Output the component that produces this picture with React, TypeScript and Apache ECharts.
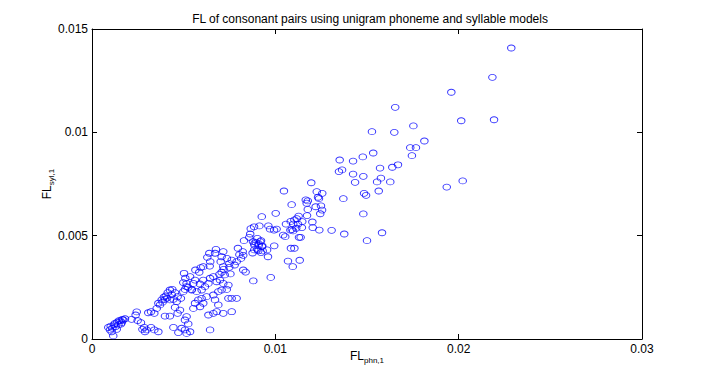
import React, { useEffect, useRef } from "react";
import * as echarts from "echarts";

const titleText = "FL of consonant pairs using unigram phoneme and syllable models";
const xName = "{a|FL}{b|phn,1}";
const yName = "{a|FL}{b|syl,1}";
const xRange = [0, 0.03];
const yRange = [0, 0.015];

const upperPairs: [number, number][] = [
  [0.02287, 0.01408], [0.02184, 0.01266], [0.0196, 0.01194], [0.01654, 0.01121],
  [0.02014, 0.01056], [0.02193, 0.01061], [0.01527, 0.01003], [0.01649, 0.01],
  [0.01753, 0.01031], [0.01813, 0.00958], [0.01736, 0.00926], [0.01767, 0.00926],
  [0.01745, 0.00887], [0.01534, 0.009], [0.01477, 0.00881], [0.01351, 0.00866],
  [0.01424, 0.00861], [0.01347, 0.0081], [0.01364, 0.00818], [0.01571, 0.00827],
  [0.01638, 0.00831], [0.01669, 0.00843], [0.01424, 0.00798], [0.0148, 0.00787],
  [0.01435, 0.00758], [0.01555, 0.0076], [0.01576, 0.00778], [0.01627, 0.0076],
  [0.01935, 0.00735], [0.02022, 0.00765], [0.01484, 0.00705], [0.01495, 0.00695],
  [0.01564, 0.00716], [0.01371, 0.00679], [0.0148, 0.00605], [0.01307, 0.00526],
  [0.01376, 0.00508], [0.01582, 0.00514], [0.015, 0.00476],
];

const middlePairs: [number, number][] = [
  [0.01196, 0.00756], [0.01047, 0.00716], [0.01226, 0.00713], [0.01256, 0.00705],
  [0.01166, 0.00673], [0.01177, 0.00668], [0.01233, 0.00686], [0.01238, 0.00679],
  [0.01089, 0.0065], [0.0122, 0.0064], [0.01249, 0.00644], [0.01255, 0.00624],
  [0.01177, 0.00627], [0.01002, 0.00608], [0.01127, 0.00595], [0.01117, 0.00582],
  [0.01084, 0.00569], [0.01104, 0.00576], [0.01173, 0.00597], [0.01202, 0.00566],
  [0.01245, 0.00606], [0.00926, 0.00592], [0.01058, 0.00556], [0.01098, 0.00556],
  [0.01124, 0.00556], [0.01147, 0.00568], [0.01145, 0.00539], [0.01114, 0.00536],
  [0.01082, 0.00527], [0.0124, 0.00527], [0.00913, 0.00547], [0.00884, 0.00543],
  [0.00866, 0.00534], [0.00971, 0.00532], [0.01007, 0.00532], [0.00962, 0.00547],
  [0.00993, 0.00527], [0.01043, 0.00503], [0.01054, 0.00495], [0.01129, 0.00492],
  [0.01138, 0.00492], [0.00863, 0.00508], [0.00858, 0.00492], [0.00902, 0.00487],
  [0.00922, 0.00476], [0.00909, 0.0046], [0.00829, 0.00476], [0.00885, 0.0046],
  [0.00929, 0.0045], [0.00796, 0.00439], [0.00994, 0.00451], [0.01085, 0.00439],
  [0.01104, 0.00439], [0.00676, 0.00434], [0.01204, 0.00539], [0.0109, 0.0053],
  [0.01097, 0.00523], [0.01171, 0.00657], [0.01069, 0.00377], [0.01133, 0.00381],
  [0.01095, 0.0035], [0.00975, 0.00298], [0.0096, 0.00398], [0.00955, 0.00431],
];

const lowerPairs: [number, number][] = [
  [0.00116, 0.00015], [0.00089, 0.00056], [0.00098, 0.00044], [0.00111, 0.00052],
  [0.00129, 0.0006], [0.00144, 0.00068], [0.00125, 0.00076], [0.00147, 0.00089],
  [0.00165, 0.00095], [0.0018, 0.00098], [0.00162, 0.00079], [0.00135, 0.00047],
  [0.00107, 0.00035], [0.00102, 0.00062], [0.0012, 0.00068], [0.00138, 0.00082],
  [0.00155, 0.00088], [0.0017, 0.00092], [0.00158, 0.00072], [0.00244, 0.00131],
  [0.00238, 0.00116], [0.00216, 0.00095], [0.00249, 0.00089], [0.00267, 0.00079],
  [0.00285, 0.00056], [0.00298, 0.00044], [0.00322, 0.00056], [0.0034, 0.00044],
  [0.00362, 0.00035], [0.00289, 0.00035], [0.00275, 0.00047], [0.00307, 0.00127],
  [0.00322, 0.00132], [0.0034, 0.00124], [0.00353, 0.00148], [0.00371, 0.00165],
  [0.00362, 0.00173], [0.0038, 0.00189], [0.00398, 0.00192], [0.00402, 0.00208],
  [0.00413, 0.00224], [0.00425, 0.00237], [0.00438, 0.0024], [0.00453, 0.00224],
  [0.00467, 0.00205], [0.00444, 0.00192], [0.00425, 0.00189], [0.00462, 0.00181],
  [0.00485, 0.00197], [0.00498, 0.00229], [0.00498, 0.00273], [0.00398, 0.00111],
  [0.00425, 0.00111], [0.00453, 0.00153], [0.0048, 0.0014], [0.00467, 0.00124],
  [0.00489, 0.00052], [0.00444, 0.00056], [0.00471, 0.00031], [0.00385, 0.00178],
  [0.0041, 0.00198], [0.00435, 0.00215], [0.00392, 0.00203],
];

const clusterPairs: [number, number][] = [
  [0.00593, 0.00345], [0.00564, 0.00334], [0.00585, 0.00323], [0.00749, 0.00347],
  [0.00718, 0.00337], [0.00707, 0.00323], [0.00724, 0.0031], [0.00755, 0.00315],
  [0.00695, 0.00313], [0.00825, 0.00334], [0.00838, 0.00324], [0.0088, 0.00281],
  [0.00502, 0.00318], [0.00509, 0.00294], [0.00535, 0.00302], [0.00562, 0.00285],
  [0.00553, 0.00269], [0.00516, 0.00253], [0.00544, 0.00237], [0.00571, 0.00229],
  [0.00598, 0.00237], [0.00616, 0.00253], [0.00589, 0.00266], [0.00635, 0.00269],
  [0.00607, 0.00285], [0.00644, 0.00294], [0.00662, 0.00302], [0.0068, 0.00277],
  [0.00698, 0.00285], [0.00716, 0.00269], [0.00744, 0.00261], [0.00735, 0.0024],
  [0.00707, 0.00237], [0.00689, 0.00229], [0.00662, 0.00213], [0.00625, 0.00205],
  [0.00598, 0.00197], [0.0058, 0.00189], [0.00607, 0.00173], [0.00589, 0.00156],
  [0.00562, 0.00173], [0.00553, 0.00148], [0.00516, 0.00108], [0.00507, 0.00092],
  [0.00525, 0.00073], [0.00507, 0.00044], [0.00535, 0.00035], [0.00516, 0.00027],
  [0.00644, 0.00044], [0.00635, 0.00116], [0.00662, 0.00124], [0.0068, 0.00132],
  [0.00716, 0.00124], [0.00762, 0.00132], [0.00689, 0.00165], [0.00762, 0.00197],
  [0.00789, 0.00197], [0.00744, 0.00197], [0.00671, 0.00189], [0.00878, 0.00471],
  [0.00893, 0.00468], [0.00918, 0.00471], [0.00887, 0.00453], [0.00909, 0.00453],
  [0.00927, 0.00447], [0.00902, 0.00434], [0.00885, 0.00431], [0.00876, 0.00416],
  [0.00922, 0.00418], [0.00907, 0.00427], [0.00931, 0.00426], [0.00822, 0.00423],
  [0.00825, 0.00405], [0.00813, 0.0039], [0.00804, 0.00408], [0.00736, 0.0039],
  [0.00762, 0.00382], [0.00749, 0.00365], [0.00778, 0.00358], [0.00789, 0.00374],
  [0.00702, 0.00374], [0.00716, 0.00423], [0.0064, 0.00415], [0.00629, 0.00395],
  [0.00645, 0.00374], [0.00642, 0.00353], [0.00671, 0.00415], [0.00707, 0.00398],
  [0.00716, 0.0035], [0.00607, 0.0035], [0.00507, 0.0024], [0.00525, 0.0025],
  [0.00544, 0.0024], [0.00516, 0.00269],
];

const FONT = "'Liberation Sans', Arial, Helvetica, sans-serif";

export default function App() {
  const ref = useRef<HTMLDivElement>(null);
  useEffect(() => {
    document.body.style.margin = "0";
    const chart = echarts.init(ref.current!, null, { renderer: "svg" });
    const rich = {
      a: { fontSize: 12, fontFamily: FONT, color: "#000" },
      b: { fontSize: 8, fontFamily: FONT, color: "#000", padding: [8, 0, 0, 0] },
    };
    const tickCommon = {
      axisLine: { show: true, onZero: false, lineStyle: { color: "#000", width: 1 } },
      axisTick: { show: true, inside: true, length: 5, lineStyle: { color: "#000" } },
      splitLine: { show: false },
    };
    chart.setOption({
      animation: false,
      backgroundColor: "#fff",
      grid: { left: 92, right: 66, top: 29, bottom: 43 },
      graphic: [
        {
          type: "text",
          x: 370,
          y: 19,
          style: {
            text: titleText,
            align: "center",
            verticalAlign: "middle",
            fontSize: 12,
            fontFamily: FONT,
            fill: "#000",
          },
        },
      ],
      xAxis: [
        {
          type: "value",
          min: xRange[0],
          max: xRange[1],
          interval: 0.01,
          position: "bottom",
          ...tickCommon,
          axisLabel: { color: "#000", fontSize: 12, fontFamily: FONT, margin: 4 },
          name: xName,
          nameLocation: "middle",
          nameGap: 9,
          nameMoveOverlap: false,
          nameTextStyle: { rich, verticalAlign: "top" },
        },
        {
          type: "value",
          min: xRange[0],
          max: xRange[1],
          interval: 0.01,
          position: "top",
          ...tickCommon,
          axisLabel: { show: false },
        },
      ],
      yAxis: [
        {
          type: "value",
          min: yRange[0],
          max: yRange[1],
          interval: 0.005,
          position: "left",
          ...tickCommon,
          axisLabel: { color: "#000", fontSize: 12, fontFamily: FONT, margin: 4 },
          name: yName,
          nameLocation: "middle",
          nameRotate: 90,
          nameGap: 37,
          nameMoveOverlap: false,
          nameTextStyle: { rich },
        },
        {
          type: "value",
          min: yRange[0],
          max: yRange[1],
          interval: 0.005,
          position: "right",
          ...tickCommon,
          axisLabel: { show: false },
        },
      ],
      series: [
        {
          type: "scatter",
          data: [...upperPairs, ...middlePairs, ...lowerPairs, ...clusterPairs],
          symbol: "path://M1,0A1,1,0,1,1,-1,0A1,1,0,1,1,1,0Z",
          symbolSize: [7.5, 6],
          itemStyle: { color: "rgba(0,0,0,0)", borderColor: "#0000ff", borderWidth: 0.9 },
          emphasis: { disabled: true },
        },
      ],
    });
    return () => chart.dispose();
  }, []);
  return <div ref={ref} style={{ width: 708, height: 382 }} />;
}
